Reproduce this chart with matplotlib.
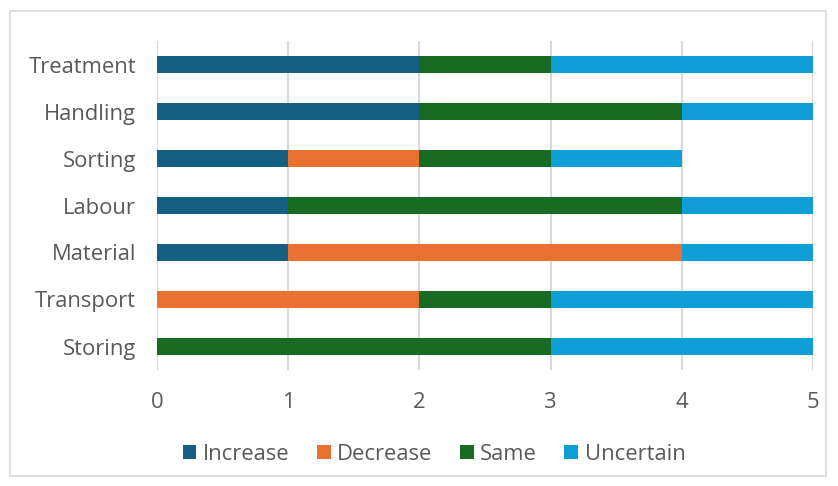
import matplotlib.pyplot as plt
from matplotlib.patches import Rectangle

# categories, bottom to top as drawn
categories = ["Storing", "Transport", "Material", "Labour", "Sorting", "Handling", "Treatment"]
increase = [0, 0, 1, 1, 1, 2, 2]
decrease = [0, 2, 3, 0, 1, 0, 0]
same = [3, 1, 0, 3, 1, 2, 1]
uncertain = [2, 2, 1, 1, 1, 1, 2]

series = [
    ("Increase", increase, "#156082"),
    ("Decrease", decrease, "#E97132"),
    ("Same", same, "#196B24"),
    ("Uncertain", uncertain, "#0F9ED5"),
]

plt.rcParams['font.family'] = ['Open Sans', 'DejaVu Sans']
text_col = "#595959"

fig = plt.figure(figsize=(8.38, 4.86), dpi=100)
ax = fig.add_axes([157 / 838, 1 - 370 / 486, (813 - 157) / 838, (370 - 41) / 486])

left = [0] * len(categories)
for name, vals, col in series:
    ax.barh(categories, vals, left=left, height=0.38, color=col, label=name, zorder=3)
    left = [a + b for a, b in zip(left, vals)]

ax.set_xlim(0, 5)
ax.set_ylim(-0.5, len(categories) - 0.5)
ax.set_xticks(range(6))
ax.grid(axis='x', color='#d9d9d9', linewidth=1.5, zorder=0)
for s in ax.spines.values():
    s.set_visible(False)
ax.tick_params(axis='both', length=0, labelsize=15.8, labelcolor=text_col)
ax.tick_params(axis='x', pad=16)
ax.tick_params(axis='y', pad=15)

leg = fig.legend(loc='center', bbox_to_anchor=(434 / 838, 1 - 454 / 486), ncol=4, frameon=False,
                 fontsize=15.8, handlelength=0.62, handleheight=0.62, handletextpad=0.3,
                 columnspacing=1.25)
for t in leg.get_texts():
    t.set_color(text_col)

fig.patches.append(Rectangle((10 / 838, 1 - 476 / 486), 816 / 838, 465 / 486,
                             transform=fig.transFigure, fill=False,
                             edgecolor='#d9d9d9', linewidth=1.2))

fig.savefig("out.png", dpi=100)
